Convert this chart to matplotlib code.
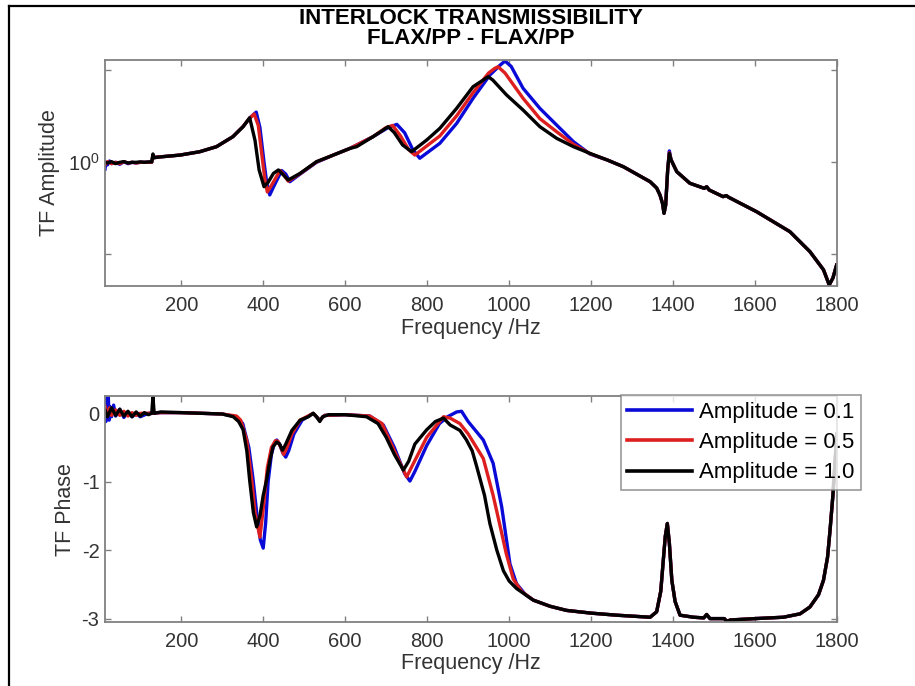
import matplotlib
matplotlib.use("Agg")
import matplotlib.pyplot as plt
from matplotlib.lines import Line2D

plt.rcParams['font.family'] = ['Liberation Sans', 'DejaVu Sans']
plt.rcParams['mathtext.fontset'] = 'custom'
plt.rcParams['mathtext.rm'] = 'Liberation Sans'
plt.rcParams['mathtext.it'] = 'Liberation Sans:italic'

# ---------------- data ----------------
series_labels = ['Amplitude = 0.1', 'Amplitude = 0.5', 'Amplitude = 1.0']
series_colors = ['#0a0ad8', '#de1f1f', '#000000']

# Transmissibility amplitude (log scale)
f_amp_01 = [14, 16, 20, 25, 30, 40, 50, 60, 70, 80, 90, 100, 110, 120, 128, 131, 134, 140, 160, 197, 245, 286, 326,
            351, 368, 383, 392, 402, 409, 416, 425, 445, 455, 465, 490, 530, 571, 612, 668, 705, 726, 745, 765, 782,
            831, 872, 912, 953, 978, 990, 1005, 1034, 1075, 1116, 1157, 1197, 1240, 1279, 1344, 1360, 1368, 1374, 1378,
            1382, 1387, 1391, 1395, 1409, 1441, 1476, 1482, 1488, 1522, 1530, 1536, 1604, 1685, 1734, 1767, 1781, 1790, 1799]
amp_01 = [0.95, 1.0, 0.98, 1.01, 0.99, 1.0, 0.985, 1.005, 0.99, 1.0, 0.995, 1.0, 1.0, 1.0, 1.0, 1.05, 1.035, 1.04, 1.045, 1.056, 1.083, 1.125, 1.213,
          1.31, 1.40, 1.46, 1.30, 1.00, 0.85, 0.782, 0.83, 0.94, 0.915, 0.864, 0.915, 1.0, 1.056, 1.111, 1.213, 1.30, 1.331, 1.25, 1.10, 1.031,
          1.154, 1.341, 1.62, 1.93, 2.08, 2.145, 2.06, 1.747, 1.502, 1.324, 1.168, 1.065, 1.017, 0.967, 0.864, 0.824, 0.782, 0.736, 0.681,
          0.725, 0.95, 1.09, 1.02, 0.932, 0.854, 0.822, 0.832, 0.812, 0.772, 0.778, 0.768, 0.689, 0.593, 0.510, 0.445, 0.397, 0.418, 0.461]

f_amp_05 = [14, 20, 30, 40, 50, 60, 70, 80, 90, 100, 110, 120, 128, 131, 134, 140, 160, 197, 245, 286, 326,
            351, 366, 378, 388, 397, 404, 410, 420, 441, 450, 461, 490, 530, 571, 612, 668, 700, 716, 735, 755, 770,
            831, 872, 912, 950, 965, 973, 990, 1034, 1075, 1116, 1157, 1197, 1240, 1279, 1344, 1360, 1368, 1374, 1378,
            1382, 1387, 1391, 1395, 1409, 1441, 1476, 1482, 1488, 1522, 1530, 1536, 1604, 1685, 1734, 1767, 1781, 1790, 1799]
amp_05 = [0.98, 1.005, 0.99, 1.0, 0.99, 1.005, 0.995, 1.0, 0.995, 1.0, 1.0, 1.0, 1.0, 1.055, 1.035, 1.04, 1.045, 1.056, 1.083, 1.125, 1.213,
          1.31, 1.39, 1.44, 1.32, 1.05, 0.88, 0.80, 0.84, 0.94, 0.91, 0.868, 0.918, 1.003, 1.056, 1.111, 1.213, 1.30, 1.32, 1.22, 1.10, 1.056,
          1.22, 1.42, 1.69, 1.96, 2.03, 2.055, 1.96, 1.62, 1.39, 1.259, 1.145, 1.068, 1.017, 0.967, 0.864, 0.824, 0.782, 0.736, 0.681,
          0.725, 0.95, 1.075, 1.02, 0.932, 0.854, 0.822, 0.832, 0.812, 0.772, 0.778, 0.768, 0.689, 0.593, 0.510, 0.445, 0.397, 0.418, 0.461]

f_amp_10 = [14, 20, 30, 40, 50, 60, 70, 80, 90, 100, 110, 120, 128, 131, 134, 140, 160, 197, 245, 286, 326,
            351, 367, 380, 390, 402, 412, 425, 437, 449, 461, 490, 530, 571, 612, 628, 668, 705, 720, 740, 762,
            799, 831, 872, 912, 949, 960, 994, 1034, 1075, 1116, 1157, 1197, 1240, 1279, 1344, 1360, 1368, 1374, 1378,
            1382, 1387, 1391, 1395, 1409, 1441, 1476, 1482, 1488, 1522, 1530, 1536, 1604, 1685, 1734, 1767, 1781, 1790, 1799]
amp_10 = [1.0, 0.995, 1.005, 0.99, 1.0, 1.005, 0.995, 1.0, 1.0, 1.003, 1.0, 1.003, 1.003, 1.065, 1.035, 1.038, 1.045, 1.056, 1.083, 1.125, 1.213,
          1.308, 1.399, 1.18, 0.944, 0.832, 0.86, 0.92, 0.944, 0.91, 0.875, 0.92, 1.005, 1.056, 1.111, 1.125, 1.213, 1.308, 1.25, 1.14, 1.083,
          1.183, 1.292, 1.502, 1.768, 1.906, 1.86, 1.66, 1.483, 1.308, 1.198, 1.125, 1.07, 1.017, 0.967, 0.864, 0.824, 0.782, 0.736, 0.681,
          0.725, 0.95, 1.07, 1.02, 0.932, 0.854, 0.822, 0.832, 0.812, 0.772, 0.778, 0.768, 0.689, 0.593, 0.510, 0.445, 0.397, 0.418, 0.461]

# Transmissibility phase
f_ph_01 = [14, 16, 18, 20, 22, 24, 26, 30, 35, 40, 50, 60, 70, 80, 90, 100, 120, 150, 200, 250, 300, 335, 350, 365, 375,
           385, 393, 400, 406, 412, 420, 428, 433, 440, 448, 455, 462, 475, 495, 522, 530, 538, 550, 600, 660, 693, 720,
           745, 758, 770, 799, 830, 850, 872, 884, 900, 937, 961, 982, 1002, 1018, 1040, 1059, 1100, 1140, 1200, 1262,
           1344, 1360, 1370, 1376, 1381, 1386, 1391, 1397, 1405, 1417, 1450, 1475, 1482, 1490, 1525, 1531, 1540, 1600,
           1669, 1710, 1734, 1755, 1767, 1777, 1783, 1790, 1795, 1800]
ph_01 = [0.2, -0.12, 0.22, -0.05, 0.25, -0.1, 0.1, -0.05, 0.12, -0.04, 0.06, -0.06, 0.02, -0.05, 0.0, -0.05, 0.0, 0.01, 0.01, 0.0, -0.01, -0.05, -0.15, -0.5, -0.95,
         -1.5, -1.85, -1.97, -1.6, -1.0, -0.6, -0.42, -0.39, -0.45, -0.58, -0.64, -0.55, -0.3, -0.1, 0.0, -0.05, -0.1, -0.03, -0.02, -0.04, -0.17, -0.5,
         -0.88, -0.99, -0.85, -0.47, -0.15, -0.05, 0.02, 0.03, -0.12, -0.39, -0.73, -1.37, -2.2, -2.49, -2.65, -2.73, -2.82, -2.88, -2.92, -2.95,
         -2.98, -2.9, -2.6, -2.16, -1.8, -1.61, -1.9, -2.44, -2.75, -2.95, -2.98, -2.99, -2.94, -3.0, -3.0, -3.04, -3.02, -3.0,
         -2.98, -2.93, -2.83, -2.65, -2.44, -2.1, -1.71, -1.2, -0.73, -0.3]

f_ph_05 = [14, 20, 25, 30, 40, 50, 60, 70, 80, 90, 100, 120, 150, 200, 250, 300, 335, 345, 360, 372, 380, 392, 400, 410,
           420, 430, 436, 443, 450, 458, 470, 490, 522, 530, 538, 550, 600, 660, 690, 720, 750, 765, 799, 840, 856, 880,
           900, 937, 961, 980, 993, 1010, 1030, 1059, 1100, 1140, 1200, 1262,
           1344, 1360, 1370, 1376, 1381, 1386, 1391, 1397, 1405, 1417, 1450, 1475, 1482, 1490, 1525, 1531, 1540, 1600,
           1669, 1710, 1734, 1755, 1767, 1777, 1783, 1790, 1795, 1800]
ph_05 = [0.1, -0.04, 0.08, -0.03, 0.05, -0.03, 0.03, -0.04, 0.01, -0.03, 0.0, 0.0, 0.01, 0.01, 0.0, -0.01, -0.04, -0.1, -0.4, -0.98, -1.45, -1.81, -1.4, -0.8,
         -0.5, -0.4, -0.41, -0.5, -0.6, -0.5, -0.3, -0.1, 0.0, -0.05, -0.1, -0.03, -0.02, -0.04, -0.15, -0.55, -0.93, -0.75, -0.35, -0.05, -0.07, -0.15,
         -0.3, -0.66, -1.2, -1.7, -2.05, -2.42, -2.6, -2.73, -2.82, -2.88, -2.92, -2.95,
         -2.98, -2.9, -2.6, -2.16, -1.8, -1.61, -1.9, -2.44, -2.75, -2.95, -2.98, -2.99, -2.94, -3.0, -3.0, -3.04, -3.02, -3.0,
         -2.98, -2.93, -2.83, -2.65, -2.44, -2.1, -1.71, -1.2, -0.73, -0.3]

f_ph_10 = [14, 20, 30, 40, 50, 60, 70, 80, 90, 100, 110, 120, 128, 131, 134, 150, 200, 250, 300, 327, 340, 351, 360,
           367, 376, 384, 392, 400, 408, 416, 424, 433, 440, 447, 455, 470, 490, 510, 522, 530, 538, 545, 560, 600, 652,
           680, 700, 720, 742, 755, 770, 799, 820, 840, 856, 880, 896, 910, 921, 940, 953, 970, 986, 1000, 1018, 1059,
           1100, 1140, 1200, 1262, 1344, 1360, 1370, 1376, 1381, 1386, 1391, 1397, 1405, 1417, 1450, 1475, 1482, 1490,
           1525, 1531, 1540, 1600, 1669, 1710, 1734, 1755, 1767, 1777, 1783, 1790, 1795, 1800]
ph_10 = [0.05, -0.05, 0.08, -0.03, 0.06, -0.04, 0.03, -0.05, 0.02, -0.04, 0.01, -0.02, 0.0, 0.24, 0.0, 0.02, 0.01, 0.0, -0.01, -0.05, -0.12, -0.24, -0.55,
         -0.98, -1.45, -1.66, -1.5, -1.2, -0.98, -0.7, -0.49, -0.42, -0.45, -0.54, -0.45, -0.25, -0.1, -0.05, 0.0, -0.05, -0.12, -0.05, -0.02, -0.02, -0.05,
         -0.15, -0.35, -0.6, -0.83, -0.7, -0.45, -0.24, -0.12, -0.07, -0.17, -0.25, -0.39, -0.55, -0.78, -1.2, -1.61, -2.0, -2.3, -2.45, -2.56, -2.73,
         -2.82, -2.88, -2.92, -2.95, -2.98, -2.9, -2.6, -2.16, -1.8, -1.61, -1.9, -2.44, -2.75, -2.95, -2.98, -2.99, -2.94, -3.0,
         -3.0, -3.04, -3.02, -3.0, -2.98, -2.93, -2.83, -2.65, -2.44, -2.1, -1.71, -1.2, -0.73, -0.3]

x_ticks = [200, 400, 600, 800, 1000, 1200, 1400, 1600, 1800]
amp_yticks = [0.5, 1.0, 2.0]
amp_yticklabels = ['', r'$10^0$', '']
ph_yticks = [-3, -2, -1, 0]
ph_yticklabels = ['-3', '-2', '-1', '0']

title_lines = ['INTERLOCK TRANSMISSIBILITY', 'FLAX/PP - FLAX/PP']
xlabel = 'Frequency /Hz'

# ---------------- figure ----------------
W, H = 915, 686
fig = plt.figure(figsize=(W / 100, H / 100), dpi=100)

def pos(l, t, r, b):
    return [l / W, 1 - b / H, (r - l) / W, (b - t) / H]

ax1 = fig.add_axes(pos(105, 60, 837, 286))
ax2 = fig.add_axes(pos(105, 396, 837, 622.3))

lw = 2.4
amp_f = [f_amp_01, f_amp_05, f_amp_10]
amp_v = [amp_01, amp_05, amp_10]
ph_f = [f_ph_01, f_ph_05, f_ph_10]
ph_v = [ph_01, ph_05, ph_10]
for i in range(3):
    ax1.plot(amp_f[i], amp_v[i], color=series_colors[i], lw=lw)
    ax2.plot(ph_f[i], ph_v[i], color=series_colors[i], lw=lw, label=series_labels[i])

ax1.set_yscale('log')
ax1.set_ylim(0.3937, 2.162)
ax2.set_ylim(-3.054, 0.253)
for ax in (ax1, ax2):
    ax.set_xlim(14, 1800)
    ax.set_xticks(x_ticks)
    ax.set_xticklabels([str(v) for v in x_ticks])
    ax.minorticks_off()
    for s in ax.spines.values():
        s.set_color('#808080')
        s.set_linewidth(1.3)
    ax.tick_params(direction='in', length=4, width=1, color='#808080', labelcolor='#333333',
                   labelsize=14.5, top=True, right=True)
    ax.tick_params(axis='x', pad=7)
    ax.tick_params(axis='y', pad=4)
    ax.set_xlabel(xlabel, fontsize=15.5, color='#333333')

ax1.yaxis.set_minor_locator(matplotlib.ticker.NullLocator())
ax1.set_yticks(amp_yticks)
ax1.set_yticklabels(amp_yticklabels)
ax2.set_yticks(ph_yticks)
ax2.set_yticklabels(ph_yticklabels)

ax1.set_ylabel('TF Amplitude', fontsize=15.5, color='#333333')
ax2.set_ylabel('TF Phase', fontsize=15.5, color='#333333')
ax1.yaxis.set_label_coords(-0.0615, 0.5)
ax2.yaxis.set_label_coords(-0.040, 0.5)
ax1.xaxis.set_label_coords(0.5, -0.140)
ax2.xaxis.set_label_coords(0.5, -0.134)

leg = ax2.legend(loc='upper left', bbox_to_anchor=(620.7 / W, 1 - 395 / H), bbox_transform=fig.transFigure,
                 fontsize=16, frameon=True, fancybox=False, borderaxespad=0, borderpad=0.3,
                 handlelength=2.9, handletextpad=0.33, labelspacing=0.42)
leg.get_frame().set_edgecolor('#808080')
leg.get_frame().set_linewidth(1.2)
for h in leg.legend_handles:
    h.set_linewidth(2.6)

fig.text(471 / W, 1 - 18.5 / H, title_lines[0], ha='center', va='center', fontsize=16, fontweight='bold')
fig.text(471 / W, 1 - 39 / H, title_lines[1], ha='center', va='center', fontsize=16, fontweight='bold')

# figure frame (left and top edges)
fig.add_artist(Line2D([9 / W, 9 / W], [0, 1 - 6 / H], transform=fig.transFigure, color='black', lw=1.6))
fig.add_artist(Line2D([9 / W, 1], [1 - 6 / H, 1 - 6 / H], transform=fig.transFigure, color='black', lw=1.6))

fig.savefig('out.png', dpi=100)
